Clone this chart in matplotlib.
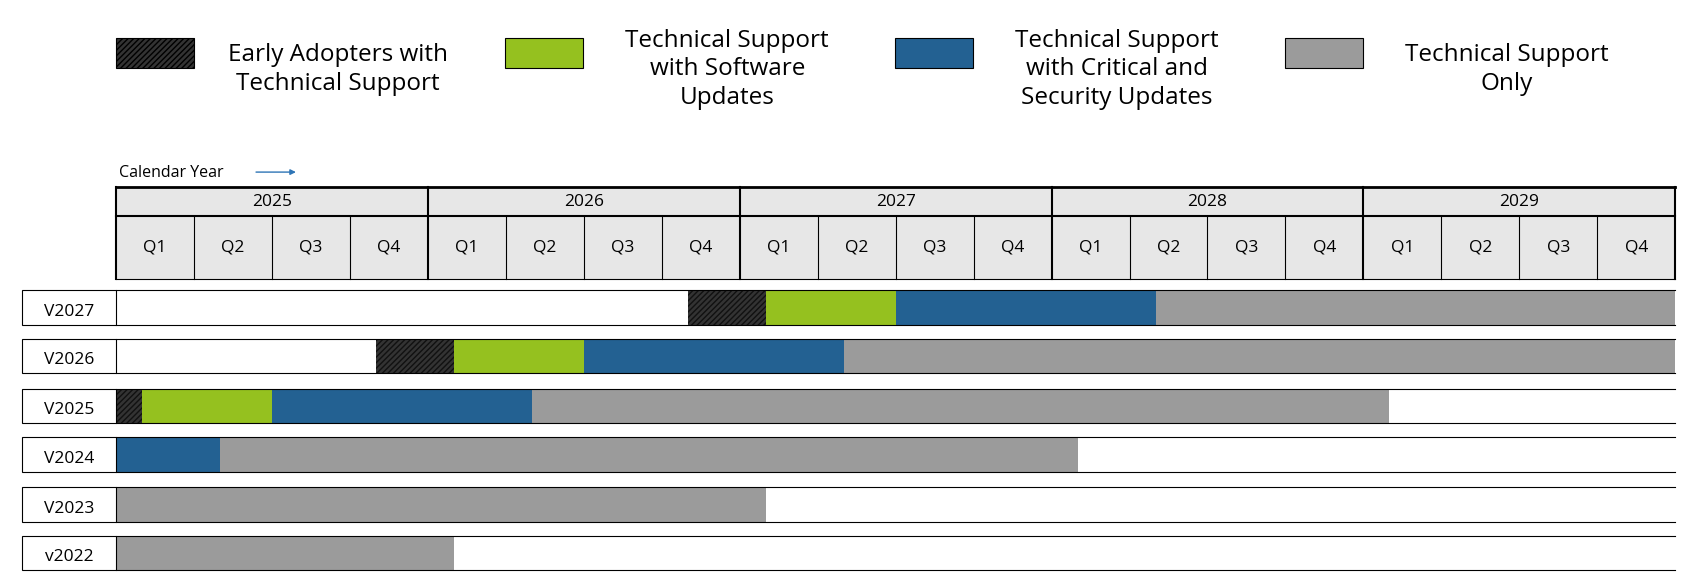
import matplotlib
matplotlib.use("Agg")
import matplotlib.pyplot as plt
from matplotlib.patches import Rectangle

years = ["2025", "2026", "2027", "2028", "2029"]
quarters = ["Q1", "Q2", "Q3", "Q4"]
versions = ["V2027", "V2026", "V2025", "V2024", "V2023", "v2022"]
# segments in months from Jan 2025: (start, end, phase)
segments = {
    "V2027": [(22, 25, "ea"), (25, 30, "sw"), (30, 40, "cs"), (40, 60, "ts")],
    "V2026": [(10, 13, "ea"), (13, 18, "sw"), (18, 28, "cs"), (28, 60, "ts")],
    "V2025": [(0, 1, "ea"), (1, 6, "sw"), (6, 16, "cs"), (16, 49, "ts")],
    "V2024": [(0, 4, "cs"), (4, 37, "ts")],
    "V2023": [(0, 25, "ts")],
    "v2022": [(0, 13, "ts")],
}
phases = ["ea", "sw", "cs", "ts"]
phase_labels = ["Early Adopters with\nTechnical Support", "Technical Support\nwith Software\nUpdates",
                "Technical Support\nwith Critical and\nSecurity Updates", "Technical Support\nOnly"]
colors = {"ea": "#333333", "sw": "#95c11f", "cs": "#236192", "ts": "#9b9b9b"}

W, H = 1568, 540.5   # layout units
fig = plt.figure(figsize=(16.97, 5.85), dpi=100)
ax = fig.add_axes([0, 0, 1, 1])
ppm = (1548 - 107) / 60.0
def X(px): return (px - 107) / ppm
ax.set_xlim(X(0), X(W))
ax.set_ylim(H, 0)
ax.axis("off")
font = "Open Sans"

def draw(x0, x1, y0, y1, phase):
    r = Rectangle((x0, y0), x1 - x0, y1 - y0, facecolor=colors[phase], edgecolor="none")
    if phase == "ea":
        r.set_hatch("//////"); r.set_edgecolor("#111111"); r.set_linewidth(0)
    ax.add_patch(r)

# Legend
box_x = [107, 467, 827, 1187]
for bx, ph, lab in zip(box_x, phases, phase_labels):
    r = Rectangle((X(bx), 35), X(bx+72) - X(bx), 28, facecolor=colors[ph], edgecolor="black", lw=0.8)
    if ph == "ea":
        r.set_hatch("//////")
    ax.add_patch(r)
    ax.text(X(bx + 205), 64, lab, ha="center", va="center", fontsize=17.5, family=font, linespacing=1.25)

# Calendar year label
ax.text(X(110), 160, "Calendar Year", ha="left", va="center", fontsize=11.5, family=font)
ax.annotate("", xy=(X(276), 159), xytext=(X(234), 159),
            arrowprops=dict(arrowstyle="-|>", color="#2e75b6", lw=1, mutation_scale=8))

# Header
ax.add_patch(Rectangle((0, 173), 60, 85, facecolor="#e7e7e7", edgecolor="none"))
ax.plot([0, 60], [173, 173], color="black", lw=2)
ax.plot([0, 60], [200, 200], color="black", lw=1.5)
ax.plot([0, 60], [258, 258], color="black", lw=0.8)
for i, y in enumerate(years):
    ax.text(i*12 + 6, 187, y, ha="center", va="center", fontsize=12.5, family=font)
    for j, q in enumerate(quarters):
        ax.text(i*12 + j*3 + 1.5, 229, q, ha="center", va="center", fontsize=12.5, family=font)
for k in range(21):
    if k % 4 == 0:
        ax.plot([k*3, k*3], [173, 258], color="black", lw=1.5)
    else:
        ax.plot([k*3, k*3], [200, 258], color="black", lw=0.8)

# Rows
row_tops = [268, 313, 359, 404, 450, 495]
rh = 32
for v, yt in zip(versions, row_tops):
    for s, e, ph in segments[v]:
        draw(s, e, yt, yt + rh, ph)
    ax.plot([0, 60], [yt, yt], color="black", lw=0.8)
    ax.plot([0, 60], [yt + rh, yt + rh], color="black", lw=0.8)
    ax.add_patch(Rectangle((X(20), yt), X(107) - X(20), rh, facecolor="white", edgecolor="black", lw=0.8))
    ax.text(X(64), yt + rh/2 + 4, v, ha="center", va="center", fontsize=12.5, family=font)

fig.savefig("out.png", dpi=100)
